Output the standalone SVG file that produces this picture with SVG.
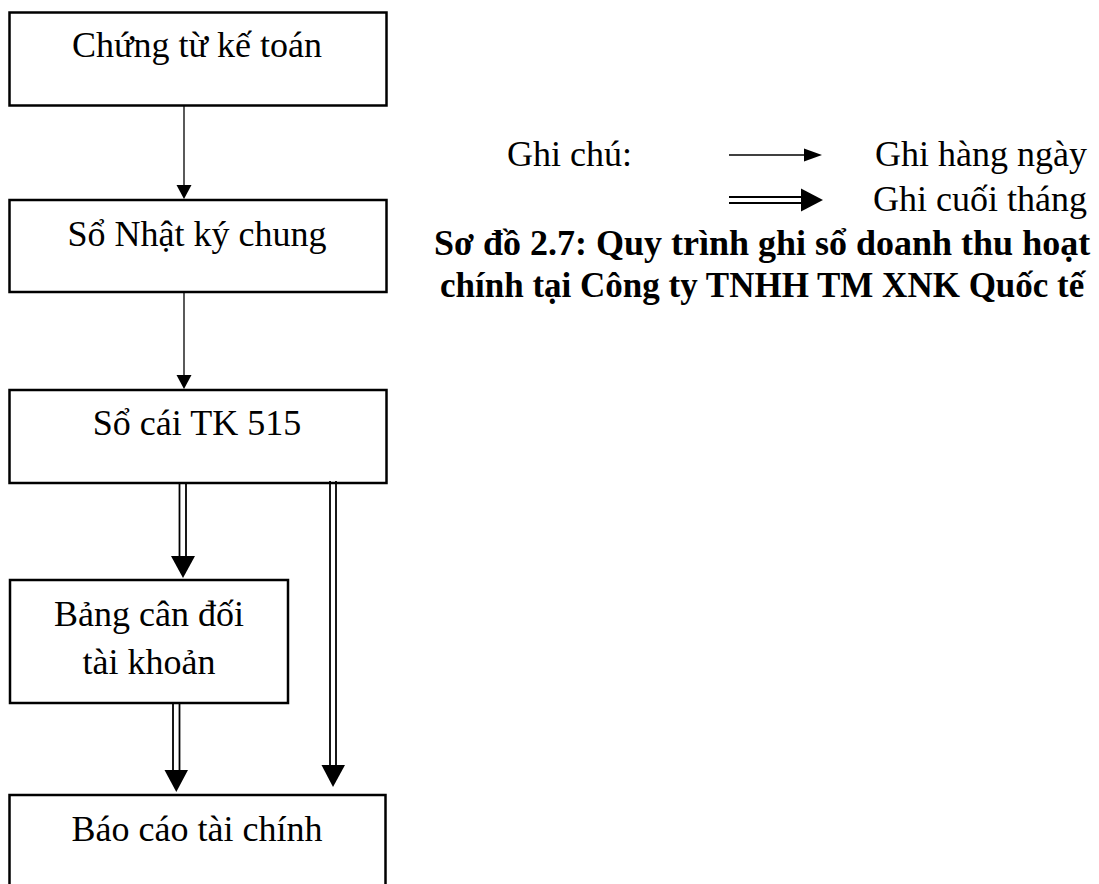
<svg xmlns="http://www.w3.org/2000/svg" width="1099" height="884" viewBox="0 0 1099 884">
  <style>
    .box { fill: #fff; stroke: #000; stroke-width: 2.5; }
    .lbl { font-family: "Liberation Serif", "Times New Roman", serif; font-size: 36px; fill: #000; }
    .cap { font-family: "Liberation Serif", "Times New Roman", serif; font-size: 36px; font-weight: bold; fill: #000; }
    .thin { stroke: #000; stroke-width: 1.3; fill: none; }
    .dbl { stroke: #000; stroke-width: 1.8; fill: none; }
    .head { fill: #000; }
  </style>
  <rect width="1099" height="884" fill="#fff"/>

  <g id="chung-tu">
    <rect class="box" x="9.5" y="12.5" width="377" height="93"/>
    <text class="lbl" x="197" y="57" text-anchor="middle">Chứng từ kế toán</text>
  </g>
  <g id="nhat-ky-chung">
    <rect class="box" x="9.5" y="200" width="377" height="92"/>
    <text class="lbl" x="197" y="246" text-anchor="middle">Sổ Nhật ký chung</text>
  </g>
  <g id="so-cai">
    <rect class="box" x="9.5" y="390" width="377" height="93"/>
    <text class="lbl" x="197" y="435" text-anchor="middle">Sổ cái TK 515</text>
  </g>
  <g id="bang-can-doi">
    <rect class="box" x="10" y="580" width="278" height="123"/>
    <text class="lbl" x="149" y="626" text-anchor="middle">Bảng cân đối</text>
    <text class="lbl" x="149" y="674" text-anchor="middle">tài khoản</text>
  </g>
  <g id="bao-cao">
    <rect class="box" x="9.5" y="795" width="376" height="100"/>
    <text class="lbl" x="197" y="841" text-anchor="middle">Báo cáo tài chính</text>
  </g>

  <g id="connectors">
    <!-- daily posting -->
    <line class="thin" x1="184" y1="106" x2="184" y2="186"/>
    <polygon class="head" points="176.5,185 191.5,185 184,199"/>
    <line class="thin" x1="184" y1="292" x2="184" y2="376"/>
    <polygon class="head" points="176.5,375 191.5,375 184,389"/>
    <!-- month-end posting -->
    <line class="dbl" x1="179.5" y1="484" x2="179.5" y2="557"/>
    <line class="dbl" x1="186" y1="484" x2="186" y2="557"/>
    <polygon class="head" points="171,556 195,556 183,578"/>
    <line class="dbl" x1="173" y1="703" x2="173" y2="771"/>
    <line class="dbl" x1="179.5" y1="703" x2="179.5" y2="771"/>
    <polygon class="head" points="164.5,770 188,770 176.3,792"/>
    <line class="dbl" x1="330" y1="481" x2="330" y2="766"/>
    <line class="dbl" x1="336" y1="481" x2="336" y2="766"/>
    <polygon class="head" points="321.5,765 345,765 333,787"/>
  </g>

  <g id="legend">
    <text class="lbl" x="507" y="166">Ghi chú:</text>
    <line class="thin" x1="729" y1="155" x2="806" y2="155"/>
    <polygon class="head" points="804,148.5 804,161.5 822,155"/>
    <text class="lbl" x="875" y="166">Ghi hàng ngày</text>
    <line class="dbl" x1="729" y1="197" x2="803" y2="197"/>
    <line class="dbl" x1="729" y1="203" x2="803" y2="203"/>
    <polygon class="head" points="801,188.5 801,211.5 823,200"/>
    <text class="lbl" x="873" y="211">Ghi cuối tháng</text>
  </g>

  <g id="caption">
    <text class="cap" x="434" y="255">Sơ đồ 2.7: Quy trình ghi sổ doanh thu hoạt</text>
    <text class="cap" x="440" y="297" style="font-size:35px">chính tại Công ty TNHH TM XNK Quốc tế</text>
  </g>
</svg>
